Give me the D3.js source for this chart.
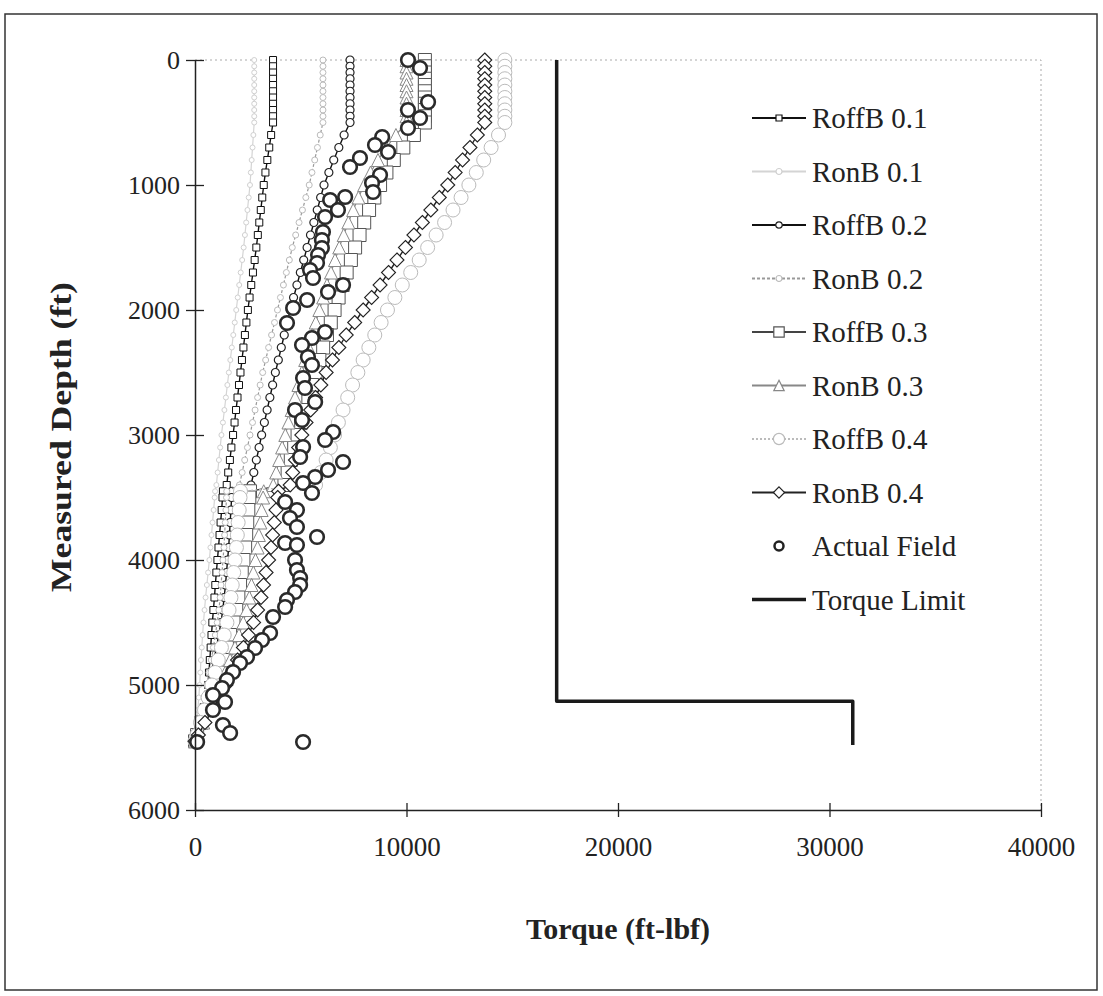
<!DOCTYPE html>
<html>
<head>
<meta charset="utf-8">
<script src="https://cdn.jsdelivr.net/npm/d3@7"></script>
<style>
  body { margin: 0; background: #fff; }
  text { font-family: "Liberation Serif", "Times New Roman", serif; }
</style>
</head>
<body>
<div id="chart"></div>
<script>
// depth stations (ft) shared by the model series
var depthStations = [0,50,100,150,200,250,300,350,400,450,500,600,700,800,900,1000,1100,1200,1300,1400,1500,1600,1700,1800,1900,2000,2100,2200,2300,2400,2500,2600,2700,2800,2900,3000,3100,3200,3300,3400,3450,3500,3600,3700,3800,3900,4000,4100,4200,4300,4400,4500,4600,4700,4800,4900,5000,5100,5200,5300,5400,5450];

// torque (ft-lbf) at each station
var roffB01 = [3690,3690,3690,3690,3690,3690,3690,3690,3690,3690,3690,
  3600,3510,3420,3330,3250,3180,3110,3040,2970,2900,2820,2740,2660,2580,2500,2430,2360,2290,2220,2150,2080,2010,1940,1870,1800,1720,1650,1570,1500,
  1320,1300,1260,1210,1160,1110,1060,1010,960,920,870,820,780,740,700,660,620,520,400,250,80,0];
var ronB01 = [2800,2800,2800,2800,2800,2800,2800,2800,2800,2800,2800,
  2760,2720,2680,2640,2600,2540,2480,2420,2360,2300,2230,2160,2090,2020,1950,1880,1810,1740,1670,1600,1530,1460,1390,1320,1250,1190,1130,1070,1010,
  950,930,880,830,780,730,680,620,560,500,450,400,360,320,280,250,220,180,130,80,30,0];
var roffB02 = [7330,7330,7330,7330,7330,7330,7330,7330,7330,7330,7330,
  7050,6800,6560,6330,6100,5940,5780,5620,5460,5300,5140,4980,4820,4660,4500,4360,4220,4080,3940,3800,3670,3540,3410,3280,3150,3030,2900,2780,2650,
  1750,1730,1700,1660,1630,1590,1540,1490,1440,1380,1310,1230,1120,1020,890,770,650,510,370,210,70,0];
var ronB02 = [6050,6050,6050,6050,6050,6050,6050,6050,6050,6050,6050,
  5920,5790,5660,5530,5400,5240,5080,4920,4760,4600,4460,4320,4180,4040,3900,3760,3620,3480,3340,3200,3080,2960,2840,2720,2600,2480,2350,2230,2100,
  1500,1490,1460,1430,1400,1370,1320,1280,1230,1190,1130,1050,960,870,770,660,560,440,320,180,60,0];
var roffB03 = [10870,10870,10870,10870,10870,10870,10870,10870,10870,10870,10870,
  10350,9850,9400,9050,8750,8480,8230,8000,7780,7570,7370,7170,6980,6790,6600,6420,6240,6060,5880,5700,5530,5360,5190,5020,4850,4690,4530,4380,4230,
  2600,2570,2520,2470,2420,2370,2290,2210,2130,2050,1950,1820,1660,1510,1330,1140,960,750,550,310,100,0];
var ronB03 = [10000,10000,10000,10000,10000,10000,10000,10000,10000,10000,10000,
  9500,9050,8650,8300,8000,7730,7480,7250,7030,6820,6620,6430,6240,6060,5880,5710,5540,5370,5210,5050,4890,4730,4570,4420,4270,4120,3980,3840,3700,
  3250,3220,3150,3090,3020,2960,2860,2760,2670,2570,2440,2280,2080,1890,1660,1430,1200,940,680,390,130,0];
var roffB04 = [14650,14650,14650,14650,14650,14650,14650,14650,14650,14650,14650,
  14350,14000,13650,13300,12950,12580,12200,11800,11400,11000,10600,10200,9800,9450,9100,8800,8500,8220,7950,7700,7450,7220,7000,6780,6600,6400,6200,5950,5700,
  2150,2130,2090,2040,2000,1960,1890,1830,1760,1700,1610,1510,1380,1250,1100,950,800,620,450,260,90,0];
var ronB04 = [13700,13700,13700,13700,13700,13700,13700,13700,13700,13700,13700,
  13350,13000,12650,12300,11950,11550,11150,10750,10350,9950,9550,9150,8750,8350,7950,7550,7150,6800,6500,6200,5950,5700,5470,5250,5050,4900,4750,4620,4500,
  3950,3910,3830,3750,3670,3590,3480,3360,3240,3120,2960,2770,2530,2290,2010,1740,1460,1150,830,470,160,0];

// actual field measurements
var fieldDepth = [0,64,336,400,464,544,616,680,736,784,856,920,984,1056,1096,1120,1200,1256,1376,1440,1504,1560,1624,1680,1744,1800,1856,1920,1984,2104,2176,2224,2280,2376,2440,2544,2624,2736,2800,2880,2976,3040,3096,3176,3216,3280,3336,3384,3464,3536,3600,3664,3736,3816,3864,3880,4000,4080,4144,4200,4256,4320,4376,4456,4584,4640,4704,4776,4824,4896,4960,5024,5080,5136,5200,5320,5384,5456,5456];
var fieldTorque = [10070,10640,11020,10070,10640,10070,8850,8510,9130,7800,7330,8750,8370,8420,7100,6390,6760,6150,6050,6000,6000,5820,5770,5440,5580,7000,6290,5300,4640,4350,6150,5530,5060,5340,5530,5110,5200,5680,4730,5060,6530,6150,5110,4970,7000,6290,5680,5110,5530,4260,4820,4490,4820,5770,4260,4820,4730,4820,4970,4970,4730,4350,4260,3690,3550,3170,2840,2460,2130,1800,1510,1280,850,1420,850,1320,1660,100,5110];

// torque limit
var limitDepth = [0,5130,5130,5480];
var limitTorque = [17100,17100,31100,31100];

var xTicks = [0,10000,20000,30000,40000];
var yTicks = [0,1000,2000,3000,4000,5000,6000];

var width = 1103, height = 996;

var svg = d3.select("#chart").append("svg")
    .attr("width", width)
    .attr("height", height);

// outer frame
svg.append("rect")
    .attr("x", 5).attr("y", 14)
    .attr("width", 1092).attr("height", 976)
    .attr("fill", "none")
    .attr("stroke", "#333")
    .attr("stroke-width", 1.5);

var x = d3.scaleLinear().domain([0, 40000]).range([195, 1041]);
var y = d3.scaleLinear().domain([0, 6000]).range([60, 810]);

// plot area border (top and right, dotted)
svg.append("path")
    .attr("d", "M" + x(0) + "," + y(0) + "H" + x(40000) + "V" + y(6000))
    .attr("fill", "none")
    .attr("stroke", "#aaa")
    .attr("stroke-dasharray", "2,3");

// marker shapes
function markerPath(shape, s) {
    var h = s / 2;
    if (shape == "square") return "M" + (-h) + "," + (-h) + "h" + s + "v" + s + "h" + (-s) + "Z";
    if (shape == "diamond") return "M0," + (-h) + "L" + h + ",0L0," + h + "L" + (-h) + ",0Z";
    if (shape == "triangle") return "M0," + (-h) + "L" + h + "," + h + "L" + (-h) + "," + h + "Z";
    return "M" + (-h) + ",0a" + h + "," + h + " 0 1,0 " + s + ",0a" + h + "," + h + " 0 1,0 " + (-s) + ",0Z";
}

var series = [
    {name: "RoffB 0.1", values: roffB01, stroke: "#111", lw: 1.4, dash: null, shape: "square", size: 7, mstroke: "#111", mw: 1},
    {name: "RonB 0.1", values: ronB01, stroke: "#d4d4d4", lw: 1.2, dash: null, shape: "circle", size: 5, mstroke: "#d0d0d0", mw: 1},
    {name: "RoffB 0.2", values: roffB02, stroke: "#111", lw: 1.4, dash: null, shape: "circle", size: 8, mstroke: "#222", mw: 1.2},
    {name: "RonB 0.2", values: ronB02, stroke: "#999", lw: 1.2, dash: "3,2", shape: "circle", size: 6, mstroke: "#bbb", mw: 1},
    {name: "RoffB 0.3", values: roffB03, stroke: "#444", lw: 1.3, dash: null, shape: "square", size: 13, mstroke: "#555", mw: 1},
    {name: "RonB 0.3", values: ronB03, stroke: "#888", lw: 1.2, dash: null, shape: "triangle", size: 13, mstroke: "#888", mw: 1},
    {name: "RoffB 0.4", values: roffB04, stroke: "#bbb", lw: 1.2, dash: "2,2", shape: "circle", size: 14, mstroke: "#bbb", mw: 1},
    {name: "RonB 0.4", values: ronB04, stroke: "#222", lw: 1.4, dash: null, shape: "diamond", size: 14, mstroke: "#222", mw: 1.1}
];

var line = d3.line()
    .x(function(d) { return x(d[0]); })
    .y(function(d) { return y(d[1]); });

series.forEach(function(s) {
    var pts = depthStations.map(function(dep, i) { return [s.values[i], dep]; });
    var g = svg.append("g");
    g.append("path")
        .datum(pts)
        .attr("d", line)
        .attr("fill", "none")
        .attr("stroke", s.stroke)
        .attr("stroke-width", s.lw)
        .attr("stroke-dasharray", s.dash);
    g.selectAll("path.m")
        .data(pts)
        .enter()
        .append("path")
        .attr("class", "m")
        .attr("transform", function(d) { return "translate(" + x(d[0]) + "," + y(d[1]) + ")"; })
        .attr("d", markerPath(s.shape, s.size))
        .attr("fill", "#fff")
        .attr("stroke", s.mstroke)
        .attr("stroke-width", s.mw);
});

// actual field points
svg.append("g").selectAll("circle")
    .data(fieldDepth.map(function(dep, i) { return [fieldTorque[i], dep]; }))
    .enter()
    .append("circle")
    .attr("cx", function(d) { return x(d[0]); })
    .attr("cy", function(d) { return y(d[1]); })
    .attr("r", 6.8)
    .attr("fill", "#fff")
    .attr("stroke", "#2a2a2a")
    .attr("stroke-width", 2.6);

// torque limit
svg.append("path")
    .datum(limitDepth.map(function(dep, i) { return [limitTorque[i], dep]; }))
    .attr("d", line)
    .attr("fill", "none")
    .attr("stroke", "#1a1a1a")
    .attr("stroke-width", 3.5)
    .attr("stroke-linejoin", "round");

// Y axis
var yAxis = svg.append("g")
    .attr("transform", "translate(" + x(0) + ",0)")
    .call(d3.axisLeft(y).tickValues(yTicks).tickSize(9).tickSizeOuter(0).tickPadding(6).tickFormat(d3.format("d")));
yAxis.select(".domain").attr("stroke", "#222").attr("stroke-width", 1.5);
yAxis.selectAll(".tick line").attr("x1", 9).attr("stroke", "#222").attr("stroke-width", 1.3);
yAxis.selectAll(".tick text")
    .attr("font-size", 26)
    .attr("fill", "#222")
    .style("font-family", "Liberation Serif");

// X axis
var xAxis = svg.append("g")
    .attr("transform", "translate(0," + y(6000) + ")")
    .call(d3.axisBottom(x).tickValues(xTicks).tickSize(7).tickSizeOuter(0).tickPadding(20).tickFormat(d3.format("d")));
xAxis.select(".domain").attr("stroke", "#222").attr("stroke-width", 1.5);
xAxis.selectAll(".tick line").attr("y1", -7).attr("stroke", "#222").attr("stroke-width", 1.3);
xAxis.selectAll(".tick text")
    .attr("font-size", 27)
    .attr("fill", "#222")
    .style("font-family", "Liberation Serif");

// axis titles
svg.append("text")
    .attr("transform", "translate(71,437) rotate(-90)")
    .attr("text-anchor", "middle")
    .attr("font-size", 30)
    .attr("font-weight", "bold")
    .attr("fill", "#222")
    .attr("textLength", 310)
    .attr("lengthAdjust", "spacingAndGlyphs")
    .text("Measured Depth (ft)");

svg.append("text")
    .attr("x", 618)
    .attr("y", 939)
    .attr("text-anchor", "middle")
    .attr("font-size", 30)
    .attr("font-weight", "bold")
    .attr("fill", "#222")
    .text("Torque (ft-lbf)");

// legend
var legendItems = series.map(function(s) { return s; });
legendItems.push({name: "Actual Field", field: true});
legendItems.push({name: "Torque Limit", limit: true});

var legend = svg.append("g");
legendItems.forEach(function(s, i) {
    var ly = 118 + i * 53.5;
    var g = legend.append("g").attr("transform", "translate(0," + ly + ")");
    if (s.field) {
        g.append("circle").attr("cx", 779).attr("cy", 0).attr("r", 4.5)
            .attr("fill", "#fff").attr("stroke", "#222").attr("stroke-width", 2.5);
    } else if (s.limit) {
        g.append("line").attr("x1", 752).attr("x2", 806).attr("y1", 0).attr("y2", 0)
            .attr("stroke", "#1a1a1a").attr("stroke-width", 3.5);
    } else {
        g.append("line").attr("x1", 752).attr("x2", 806).attr("y1", 0).attr("y2", 0)
            .attr("stroke", s.stroke).attr("stroke-width", s.lw + 0.6)
            .attr("stroke-dasharray", s.dash);
        g.append("path")
            .attr("transform", "translate(779,0)")
            .attr("d", markerPath(s.shape, Math.max(s.size * 0.8, 6)))
            .attr("fill", "#fff")
            .attr("stroke", s.mstroke)
            .attr("stroke-width", 1.2);
    }
    g.append("text")
        .attr("x", 812)
        .attr("y", 0)
        .attr("dy", "0.35em")
        .attr("font-size", 29)
        .attr("fill", "#222")
        .text(s.name);
});
</script>
</body>
</html>
